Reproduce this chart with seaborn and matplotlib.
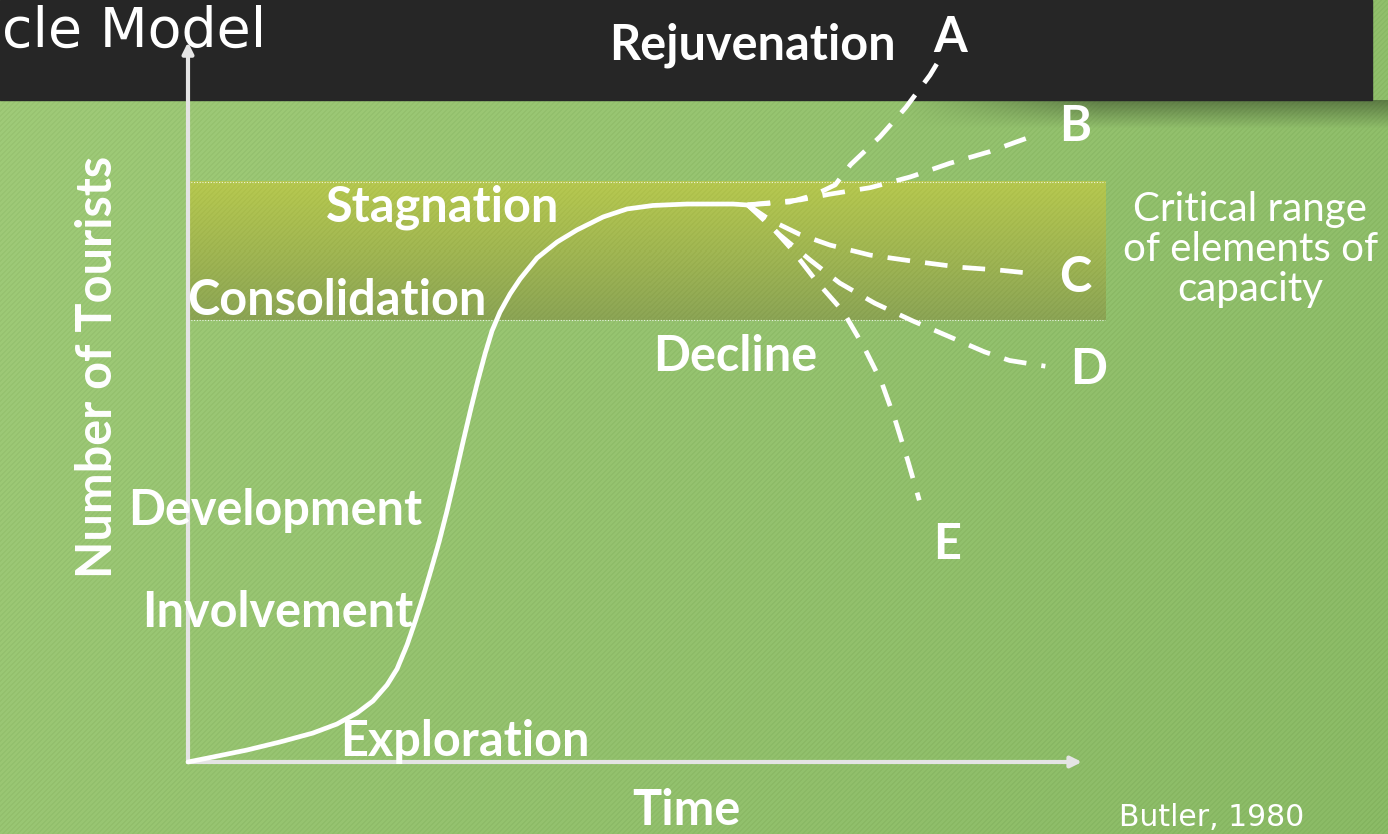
import numpy as np
import matplotlib
matplotlib.use("Agg")
import matplotlib.pyplot as plt
import seaborn as sns

# Butler (1980) tourism area life cycle
# time / number of tourists on a 0-100 scale
curve_time = [0.0, 2.80, 6.60, 10.29, 13.98, 16.67, 18.90, 20.69, 22.26, 23.38,
              24.50, 25.39, 26.29, 27.18, 28.08, 28.97, 29.87, 30.76, 31.66, 32.44,
              33.22, 34.00, 34.90, 36.02, 37.14, 39.04, 41.28, 43.51, 46.42, 49.11,
              52.01, 55.82, 60.96, 62.64]
curve_tourists = [0.0, 0.70, 1.67, 2.79, 4.04, 5.30, 6.83, 8.51, 10.74, 12.97,
                  16.32, 19.53, 23.01, 26.78, 30.68, 35.01, 39.75, 44.63, 49.37, 53.28,
                  56.90, 60.11, 62.76, 65.27, 67.36, 70.29, 72.52, 74.20, 76.01, 77.13,
                  77.62, 77.82, 77.82, 77.68]

# possible paths after stagnation (A-E)
path_names = ["A", "B", "C", "D", "E"]
path_time = {
    "A": [62.6, 67.3, 70.1, 72.4, 74.1, 77.4, 80.3, 83.0, 84.5],
    "B": [62.6, 68.5, 71.8, 76.3, 80.8, 85.2, 89.6, 94.7],
    "C": [62.6, 65.1, 68.4, 71.8, 76.3, 80.8, 86.4, 90.8, 94.7],
    "D": [62.6, 66.2, 69.6, 72.9, 76.8, 81.1, 85.2, 89.1, 91.9, 95.9],
    "E": [62.6, 64.6, 67.6, 70.2, 73.3, 75.6, 77.6, 79.1, 80.5, 81.8],
}
path_tourists = {
    "A": [77.7, 78.1, 79.1, 80.5, 83.3, 87.2, 91.3, 95.8, 98.9],
    "B": [77.7, 78.4, 79.2, 80.1, 81.6, 83.5, 85.1, 87.4],
    "C": [77.7, 75.6, 73.6, 72.1, 70.7, 69.9, 69.0, 68.6, 68.1],
    "D": [77.7, 73.5, 70.0, 66.8, 64.0, 61.5, 59.3, 57.2, 56.0, 55.2],
    "E": [77.7, 75.6, 71.4, 67.2, 62.8, 57.9, 52.9, 47.7, 42.1, 36.5],
}
path_label_time = [85.2, 99.2, 99.2, 100.7, 84.9]
path_label_tourists = [101.1, 88.6, 67.6, 54.7, 30.3]

# critical range of elements of capacity
critical_low, critical_high = 61.6, 80.9
critical_end = 102.6

stage_names = ["Exploration", "Involvement", "Development", "Consolidation",
               "Stagnation", "Decline", "Rejuvenation"]
stage_time = [31.0, 10.0, 9.7, 16.6, 28.5, 61.2, 63.1]
stage_tourists = [2.8, 20.8, 35.1, 64.4, 77.4, 56.5, 100.0]

sns.set_style("white")
plt.rcParams["font.family"] = ["Lato", "DejaVu Sans"]

W, H = 1388, 834
fig = plt.figure(figsize=(W / 100, H / 100), dpi=100)

# ---- slide background: green with fine diagonal stripes ----
ax_bg = fig.add_axes([0, 0, 1, 1])
rows, cols = np.mgrid[0:H, 0:W]
left = np.array([160, 203, 121]) / 255
right = np.array([139, 187, 102]) / 255
mix = (cols / W * 0.7 + rows / H * 0.3)[..., None]
bg = left * (1 - mix) + right * mix
stripe = ((rows + cols) % 5 < 2)[..., None] * 0.025
bg = bg - stripe
# soft shadow under the title bar
shade = np.clip(1 - (rows - 100) / 28, 0, 1) * (rows >= 100) * np.clip((cols - 900) / 200, 0, 1) * (cols < 1395)
bg = bg * (1 - 0.35 * shade[..., None])
ax_bg.imshow(np.clip(bg, 0, 1), extent=(0, W, H, 0), interpolation="nearest", aspect="auto")
ax_bg.add_patch(plt.Rectangle((0, 0), 1372, 100, color="#262626"))
ax_bg.set_xlim(0, W)
ax_bg.set_ylim(H, 0)
ax_bg.axis("off")

# ---- chart axes (0-100 scale mapped onto the slide) ----
ax = fig.add_axes([0, 0, 1, 1], facecolor="none")
x0, y0 = 188, 72          # origin in pixels from left / bottom
sx, sy = 8.94, 7.17       # pixels per unit
ax.set_xlim(-x0 / sx, (W - x0) / sx)
ax.set_ylim(-y0 / sy, (H - y0) / sy)
ax.axis("off")

# critical range band with vertical gradient
band_h = int((critical_high - critical_low) * sy)
band_w = int(critical_end * sx)
br, bc = np.mgrid[0:band_h, 0:band_w]
top = np.array([183, 201, 80]) / 255
bottom = np.array([140, 165, 86]) / 255
t = (br / band_h)[..., None]
band = top * (1 - t) + bottom * t - ((br + bc) % 5 < 2)[..., None] * 0.02
ax.imshow(np.clip(band, 0, 1), extent=(0, critical_end, critical_low, critical_high),
          interpolation="nearest", aspect="auto", zorder=1)
for yv in (critical_low, critical_high):
    ax.plot([0, critical_end], [yv, yv], color="white", lw=0.8, ls=(0, (1, 1.5)),
            alpha=0.8, zorder=2)
ax.set_xlim(-x0 / sx, (W - x0) / sx)
ax.set_ylim(-y0 / sy, (H - y0) / sy)

# axes arrows
axis_col = "#e4e4e4"
arrow = dict(arrowstyle="-|>", color=axis_col, lw=3, mutation_scale=16,
             shrinkA=0, shrinkB=0)
ax.annotate("", xy=(100, 0), xytext=(0, 0), arrowprops=arrow, zorder=3)
ax.annotate("", xy=(0, 100.4), xytext=(0, 0), arrowprops=arrow, zorder=3)

# life cycle curve
sns.lineplot(x=curve_time, y=curve_tourists, sort=False, estimator=None, ax=ax,
             color="white", lw=3.4, zorder=5, solid_capstyle="round",
             solid_joinstyle="round")

for name in path_names:
    sns.lineplot(x=path_time[name], y=path_tourists[name], sort=False, estimator=None,
                 ax=ax, color="white", lw=3.4, linestyle=(0, (4.8, 3.2)),
                 dash_capstyle="butt", zorder=5)

bold = dict(color="white", fontweight="bold", fontsize=35, ha="center", va="center", zorder=6)
for name, tx, ty in zip(stage_names, stage_time, stage_tourists):
    ax.text(tx, ty, name, **bold)
for name, tx, ty in zip(path_names, path_label_time, path_label_tourists):
    ax.text(tx, ty, name, **bold)

ax.text(-10.1, 55.1, "Number of Tourists", rotation=90, **bold)
ax.text(55.7, -6.7, "Time", **bold)

ax.text(118.8, 71.5, "Critical range\nof elements of\ncapacity", color="white",
        fontsize=29, ha="center", va="center", linespacing=1.1, zorder=6)

ax.text(114.5, -7.7, "Butler, 1980", color="white", fontsize=21.5,
        family="DejaVu Sans", ha="center", va="center", zorder=6)
ax.text(-20.8, 101.8, "cle Model", color="white", fontsize=40,
        family="DejaVu Sans", ha="left", va="center", zorder=6)

fig.savefig("out.png", dpi=100)
